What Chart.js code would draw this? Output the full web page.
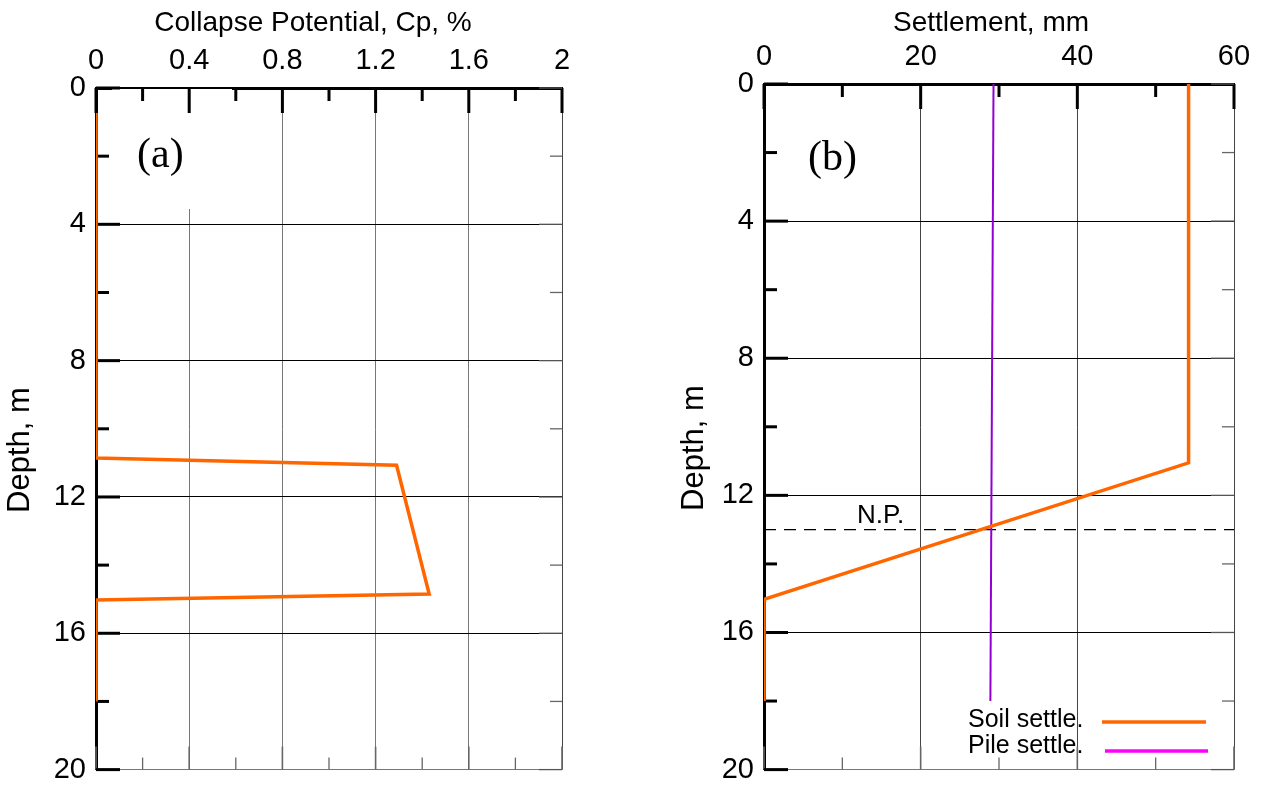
<!DOCTYPE html>
<html>
<head>
<meta charset="utf-8">
<script src="https://cdn.jsdelivr.net/npm/chart.js@4/dist/chart.umd.min.js"></script>
<style>
  html, body { margin: 0; padding: 0; background: #fff; }
  #wrap { position: relative; width: 1262px; height: 797px; overflow: hidden; }
  .panel { position: absolute; top: 0; height: 797px; }
</style>
</head>
<body>
<div id="wrap">
  <div class="panel" style="left:0;width:620px"><canvas id="cpChart"></canvas></div>
  <div class="panel" style="left:640px;width:622px"><canvas id="settleChart"></canvas></div>
</div>
<script>
// (a) collapse potential profile: depth (m) and Cp (%)
const cpDepth = [0.73, 10.86, 11.07, 14.85, 15.02, 18];
const cpValue = [0, 0, 1.29, 1.43, 0, 0];

// (b) settlement profiles: depth (m) and settlement (mm)
const soilDepth = [0, 11.05, 15.03, 18];
const soilSettle = [54.2, 54.2, 0, 0];
const pileDepth = [0, 18];
const pileSettle = [29.3, 28.9];
const neutralPlaneDepth = 13;

// axis ticks
const cpMajor = [0, 0.4, 0.8, 1.2, 1.6, 2];
const cpMinor = [0.2, 0.6, 1.0, 1.4, 1.8];
const settleMajor = [0, 20, 40, 60];
const settleMinor = [10, 30, 50];
const depthMajor = [0, 4, 8, 12, 16, 20];
const depthMinor = [2, 6, 10, 14, 18];

// legend entries of panel (b)
const legendNames = ['Soil settle.', 'Pile settle.'];
const legendColors = ['#FF6600', '#FF00FF'];

const SANS = '"Liberation Sans", Arial, Helvetica, sans-serif';
const SERIF = '"Liberation Serif", "Times New Roman", Times, serif';
const ORANGE = '#FF6600';
const PURPLE = '#9400D3';

function toPoints(xs, ys) { return xs.map((x, i) => ({ x: x, y: ys[i] })); }

function seg(ctx, x1, y1, x2, y2, w, c) {
  ctx.beginPath();
  ctx.lineWidth = w;
  ctx.strokeStyle = c;
  ctx.moveTo(x1, y1);
  ctx.lineTo(x2, y2);
  ctx.stroke();
}

// Inner tick marks on all four sides, panel tag, axis titles and legend
const profileDecor = {
  id: 'profileDecor',
  beforeDatasetsDraw(chart, args, o) {
    const ctx = chart.ctx;
    const { left, right, top, bottom } = chart.chartArea;
    const xs = chart.scales.x, ys = chart.scales.y;
    ctx.save();
    ctx.lineCap = 'butt';
    if (o.mask) {
      ctx.fillStyle = '#fff';
      ctx.fillRect(o.mask.x, o.mask.y, o.mask.w, o.mask.h);
    }
    o.xMajor.forEach(v => {
      const px = xs.getPixelForValue(v);
      seg(ctx, px, top, px, top + 25, 3, '#000');
      seg(ctx, px, bottom, px, bottom - 23, 1.6, '#666');
    });
    o.xMinor.forEach(v => {
      const px = xs.getPixelForValue(v);
      seg(ctx, px, top, px, top + 13, 3, '#000');
      seg(ctx, px, bottom, px, bottom - 12, 1.3, '#666');
    });
    o.yMajor.forEach(v => {
      const py = ys.getPixelForValue(v);
      seg(ctx, left, py, left + 24, py, 3, '#000');
      seg(ctx, right, py, right - 23, py, 1.3, '#555');
    });
    o.yMinor.forEach(v => {
      const py = ys.getPixelForValue(v);
      seg(ctx, left, py, left + 13, py, 3, '#000');
      seg(ctx, right, py, right - 12, py, 1.3, '#666');
    });
    ctx.fillStyle = '#000';
    ctx.font = '42px ' + SERIF;
    ctx.textAlign = 'left';
    ctx.textBaseline = 'alphabetic';
    ctx.fillText(o.tag, o.tagX, o.tagY);
    ctx.restore();
  },
  afterDraw(chart, args, o) {
    const ctx = chart.ctx;
    ctx.save();
    ctx.fillStyle = '#000';
    ctx.textBaseline = 'alphabetic';
    ctx.font = '28px ' + SANS;
    ctx.textAlign = 'center';
    ctx.fillText(o.xTitle, o.xTitleX, 31);
    ctx.save();
    ctx.font = '31px ' + SANS;
    ctx.translate(o.yTitleX, o.yTitleY);
    ctx.rotate(-Math.PI / 2);
    ctx.fillText(o.yTitle, 0, 0);
    ctx.restore();
    if (o.np) {
      ctx.font = '26px ' + SANS;
      ctx.textAlign = 'left';
      ctx.fillText(o.np.text, o.np.x, chart.scales.y.getPixelForValue(neutralPlaneDepth) - 7);
    }
    if (o.legend) {
      ctx.font = '25px ' + SANS;
      ctx.textAlign = 'left';
      legendNames.forEach((name, i) => {
        const y = o.legend.y + i * 26;
        const ly = o.legend.lineY[i];
        ctx.fillStyle = '#000';
        ctx.fillText(name, o.legend.x, y);
        seg(ctx, o.legend.lineX1[i], ly, o.legend.lineX2[i], ly, 3.5, legendColors[i]);
      });
    }
    ctx.restore();
  }
};

function scaleOptions(xMax, xStep, xEdgeColor, yWidth, xHeight) {
  return {
    x: {
      type: 'linear', position: 'top', min: 0, max: xMax,
      afterFit(s) { s.height = xHeight; },
      ticks: {
        stepSize: xStep, padding: 10, color: '#000',
        font: { family: SANS, size: 29 },
        maxRotation: 0, autoSkip: false,
        callback: v => String(+(+v).toFixed(1))
      },
      grid: {
        drawTicks: false, lineWidth: 1,
        color: c => (c.tick && Math.abs(c.tick.value - xMax) < 1e-9) ? '#444' : xEdgeColor
      },
      border: { display: true, width: 3, color: '#000' }
    },
    y: {
      type: 'linear', reverse: true, min: 0, max: 20,
      afterFit(s) { s.width = yWidth; },
      ticks: {
        stepSize: 4, padding: 10, color: '#000',
        font: { family: SANS, size: 29 }, autoSkip: false
      },
      grid: {
        drawTicks: false, lineWidth: 1,
        color: c => (c.tick && c.tick.value === 20) ? '#777' : '#000'
      },
      border: { display: true, width: 3, color: '#000' }
    }
  };
}

const common = {
  responsive: true,
  maintainAspectRatio: false,
  animation: false,
  devicePixelRatio: 1,
  events: []
};

new Chart(document.getElementById('cpChart'), {
  type: 'scatter',
  data: {
    datasets: [{
      label: 'Cp',
      data: toPoints(cpValue, cpDepth),
      showLine: true, borderColor: ORANGE, borderWidth: 3.5,
      pointRadius: 0, tension: 0, fill: false
    }]
  },
  options: Object.assign({}, common, {
    layout: { padding: { left: 0, top: 0, right: 58, bottom: 15 } },
    scales: scaleOptions(2, 0.4, '#777', 96, 88),
    plugins: {
      legend: { display: false },
      tooltip: { enabled: false },
      profileDecor: {
        xMajor: cpMajor, xMinor: cpMinor, yMajor: depthMajor, yMinor: depthMinor,
        mask: { x: 112, y: 89, w: 120, h: 120 },
        tag: '(a)', tagX: 137, tagY: 167,
        xTitle: 'Collapse Potential, Cp, %', xTitleX: 313,
        yTitle: 'Depth, m', yTitleX: 29, yTitleY: 450
      }
    }
  }),
  plugins: [profileDecor]
});

new Chart(document.getElementById('settleChart'), {
  type: 'scatter',
  data: {
    datasets: [{
      label: legendNames[0],
      data: toPoints(soilSettle, soilDepth),
      showLine: true, borderColor: ORANGE, borderWidth: 3.5,
      pointRadius: 0, tension: 0, fill: false
    }, {
      label: legendNames[1],
      data: toPoints(pileSettle, pileDepth),
      showLine: true, borderColor: PURPLE, borderWidth: 2,
      pointRadius: 0, tension: 0, fill: false
    }, {
      label: 'N.P.',
      data: toPoints([0, 60], [neutralPlaneDepth, neutralPlaneDepth]),
      showLine: true, borderColor: '#000', borderWidth: 1.4, borderDash: [12, 8],
      pointRadius: 0, tension: 0, fill: false
    }]
  },
  options: Object.assign({}, common, {
    layout: { padding: { left: 0, top: 0, right: 28, bottom: 16 } },
    scales: scaleOptions(60, 20, '#444', 124, 84),
    plugins: {
      legend: { display: false },
      tooltip: { enabled: false },
      profileDecor: {
        xMajor: settleMajor, xMinor: settleMinor, yMajor: depthMajor, yMinor: depthMinor,
        tag: '(b)', tagX: 168, tagY: 170,
        xTitle: 'Settlement, mm', xTitleX: 351,
        yTitle: 'Depth, m', yTitleX: 63, yTitleY: 448,
        np: { text: 'N.P.', x: 217 },
        legend: { x: 328, y: 727, lineY: [722, 751], lineX1: [462, 465], lineX2: [566, 568] }
      }
    }
  }),
  plugins: [profileDecor]
});
</script>
</body>
</html>
